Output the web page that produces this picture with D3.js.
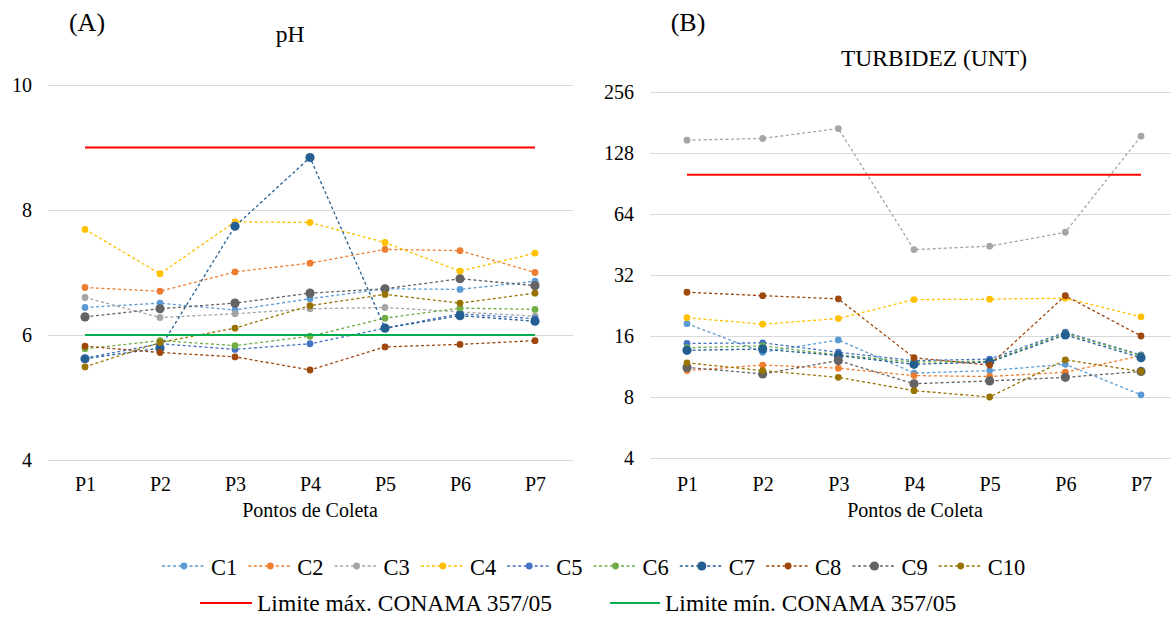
<!DOCTYPE html>
<html><head><meta charset="utf-8">
<script src="https://cdn.jsdelivr.net/npm/d3@7"></script>
<style>
body{margin:0;background:#fff}
svg{display:block}
text{font-family:"Liberation Serif","Times New Roman",serif;fill:#000}
</style>
</head><body>
<svg id="chart" width="1171" height="617"></svg>
<script>
// ---------- DATA ----------
const categories = ["P1","P2","P3","P4","P5","P6","P7"];
const seriesNames = ["C1","C2","C3","C4","C5","C6","C7","C8","C9","C10"];
const seriesColors = ["#5B9BD5","#ED7D31","#A5A5A5","#FFC000","#4472C4","#70AD47","#255E91","#9E480E","#636363","#997300"];
const phValues = [
  [6.44, 6.51, 6.40, 6.58, 6.74, 6.73, 6.86],
  [6.76, 6.70, 7.01, 7.15, 7.37, 7.35, 7.00],
  [6.60, 6.28, 6.34, 6.42, 6.44, 6.37, 6.30],
  [7.69, 6.98, 7.81, 7.80, 7.48, 7.02, 7.31],
  [5.63, 5.86, 5.77, 5.86, 6.11, 6.34, 6.26],
  [5.78, 5.91, 5.83, 5.98, 6.27, 6.43, 6.41],
  [5.62, 5.79, 7.74, 8.84, 6.11, 6.31, 6.22],
  [5.82, 5.72, 5.65, 5.44, 5.81, 5.85, 5.91],
  [6.29, 6.42, 6.51, 6.67, 6.74, 6.90, 6.79],
  [5.49, 5.88, 6.11, 6.47, 6.65, 6.51, 6.67]
];
const turbValues = [
  [18.4, 13.3, 15.3, 10.5, 10.8, 11.6, 8.2],
  [10.8, 11.5, 11.1, 10.2, 10.1, 10.6, 12.8],
  [148, 151, 169, 42.7, 44.4, 52, 155],
  [19.7, 18.3, 19.5, 24.2, 24.3, 24.6, 19.9],
  [14.7, 14.8, 13.3, 12.1, 12.3, 16.7, 12.9],
  [14.0, 14.3, 12.9, 11.9, 12.0, 16.5, 12.8],
  [13.6, 13.8, 12.8, 11.6, 11.9, 16.2, 12.5],
  [26.3, 25.3, 24.4, 12.5, 11.5, 25.3, 16.0],
  [11.2, 10.4, 12.1, 9.3, 9.6, 10.0, 10.7],
  [11.8, 10.8, 10.0, 8.6, 8.0, 12.2, 10.7]
];
const phTicks = [4, 6, 8, 10];
const turbTicks = [4, 8, 16, 32, 64, 128, 256];
const phMax = 9, phMin = 6;
const turbMax = 100;
const limitNames = ["Limite máx. CONAMA 357/05", "Limite mín. CONAMA 357/05"];
const limitColors = ["#FF0000", "#00B050"];

// ---------- DRAW ----------
const svg = d3.select("#chart");
const bigMarker = new Set(["C7","C9"]);

function panel(opts){
  const g = svg.append("g");
  const {x, y, ticks, gridX0, gridX1, values, title, label, titleX, titleY, labelX, axisY, tickFormat} = opts;
  const ax = d3.axisLeft(y).tickValues(ticks).tickSize(-(gridX1-gridX0)).tickPadding(16).tickFormat(tickFormat);
  const ga = g.append("g").attr("transform",`translate(${gridX0},0)`).call(ax);
  ga.select(".domain").remove();
  ga.selectAll(".tick line").attr("stroke","#d9d9d9").attr("stroke-width",1.2);
  ga.selectAll(".tick text").style("font-size","20px").attr("fill","#000");
  const bx = d3.axisBottom(x).tickSize(0).tickPadding(axisY.pad);
  const gb = g.append("g").attr("transform",`translate(0,${axisY.y})`).call(bx);
  gb.select(".domain").remove();
  gb.selectAll(".tick text").style("font-size","20px").attr("fill","#000");
  g.append("text").attr("x",labelX).attr("y",517).attr("text-anchor","middle").style("font-size","20px").text("Pontos de Coleta");
  g.append("text").attr("x",titleX.letter).attr("y",31).attr("text-anchor","middle").style("font-size","26px").text(label);
  g.append("text").attr("x",titleX.main).attr("y",titleY).attr("text-anchor","middle").style("font-size","23.5px").text(title);
  const line = d3.line().x((d,i)=>x(categories[i])).y(d=>y(d));
  values.forEach((vals,si)=>{
    const name = seriesNames[si];
    const sg = g.append("g");
    sg.append("path").attr("d",line(vals)).attr("fill","none")
      .attr("stroke",seriesColors[si]).attr("stroke-width",1.3).attr("stroke-dasharray","3,2.5");
    sg.selectAll("circle").data(vals).join("circle")
      .attr("cx",(d,i)=>x(categories[i])).attr("cy",d=>y(d))
      .attr("r", bigMarker.has(name)?4.6:3.4).attr("fill",seriesColors[si]);
  });
  opts.limits.forEach(l=>{
    g.append("line").attr("x1",x(categories[0])).attr("x2",x(categories[categories.length-1]))
      .attr("y1",y(l.v)).attr("y2",y(l.v)).attr("stroke",l.c).attr("stroke-width",2);
  });
}

panel({
  x: d3.scalePoint().domain(categories).range([85,535]),
  y: d3.scaleLinear().domain([4,10]).range([460,85]),
  ticks: phTicks, gridX0: 48, gridX1: 573, values: phValues,
  title: "pH", label: "(A)", titleX:{letter:87, main:290}, titleY: 42, labelX: 310,
  axisY:{y:460, pad:17}, tickFormat: d3.format("d"),
  limits:[{v:phMax,c:limitColors[0]},{v:phMin,c:limitColors[1]}]
});
panel({
  x: d3.scalePoint().domain(categories).range([687,1141]),
  y: d3.scaleLog().base(2).domain([4,256]).range([458,92]),
  ticks: turbTicks, gridX0: 650, gridX1: 1171, values: turbValues,
  title: "TURBIDEZ (UNT)", label: "(B)", titleX:{letter:688, main:934}, titleY: 66, labelX: 915,
  axisY:{y:458, pad:19}, tickFormat: d3.format("d"),
  limits:[{v:turbMax,c:limitColors[0]}]
});

// ---------- LEGEND ----------
const lg = svg.append("g");
seriesNames.forEach((n,i)=>{
  const tx = 211 + 86.3*i;
  const e = lg.append("g");
  e.append("line").attr("x1",tx-49).attr("x2",tx-5).attr("y1",566).attr("y2",566)
    .attr("stroke",seriesColors[i]).attr("stroke-width",1.3).attr("stroke-dasharray","3,2.5");
  e.append("circle").attr("cx",tx-27).attr("cy",566).attr("r",bigMarker.has(n)?4.6:3.4).attr("fill",seriesColors[i]);
  e.append("text").attr("x",tx).attr("y",575).style("font-size","22.5px").text(n);
});
const limX = [[200,252,257],[610,660,665]];
limitNames.forEach((n,i)=>{
  lg.append("line").attr("x1",limX[i][0]).attr("x2",limX[i][1]).attr("y1",603).attr("y2",603)
    .attr("stroke",limitColors[i]).attr("stroke-width",2);
  lg.append("text").attr("x",limX[i][2]).attr("y",611).style("font-size","23.5px").text(n);
});
</script>
</body></html>
